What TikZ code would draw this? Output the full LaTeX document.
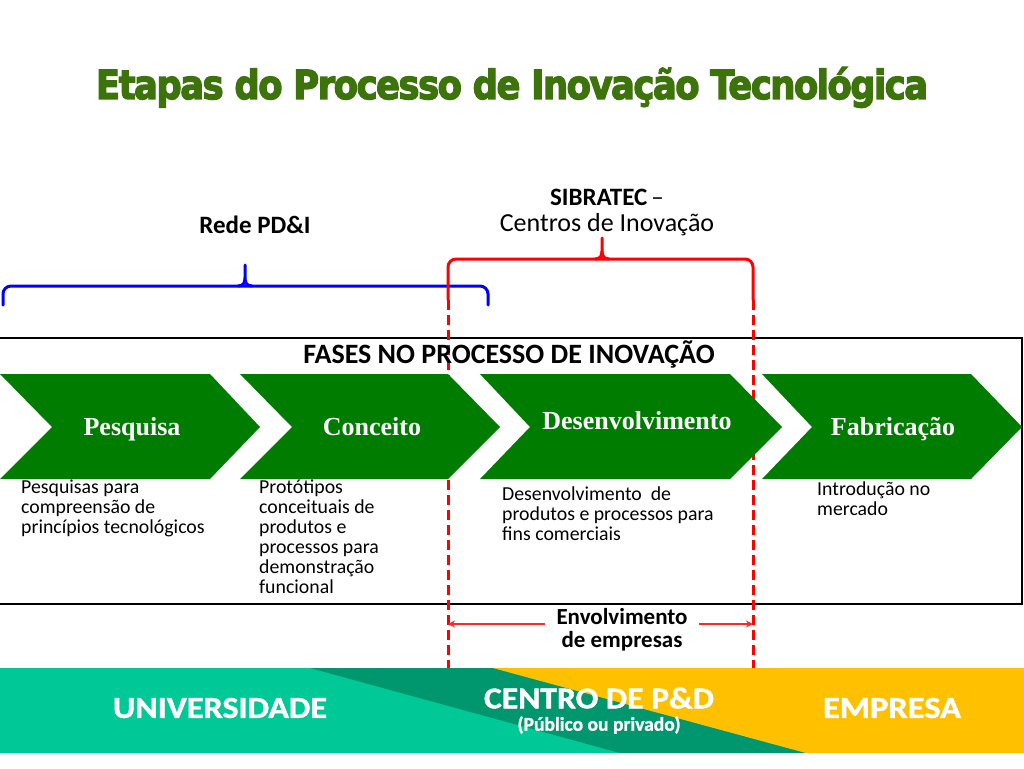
\documentclass[tikz,border=0pt]{standalone}
\usepackage{fontspec}
\setmainfont{Carlito}
\newfontfamily\serifbf{Liberation Serif}
\newfontfamily\titlef[BoldFeatures={FakeBold=3.5}, LetterSpace=-4]{DejaVu Sans}
\newfontfamily\bandf[BoldFeatures={FakeBold=1.2}]{Carlito}
\usetikzlibrary{arrows.meta,calc}
\definecolor{titlegreen}{RGB}{60,115,10}
\definecolor{chev}{RGB}{0,125,0}
\definecolor{bandlight}{RGB}{0,200,150}
\definecolor{banddark}{RGB}{0,150,110}
\definecolor{bandyellow}{RGB}{255,192,0}
\definecolor{bracered}{RGB}{255,0,0}
\definecolor{braceblue}{RGB}{0,0,255}
\definecolor{arrred}{RGB}{255,40,40}
\tikzset{
  bracestyle/.style={line width=3pt, line cap=round, line join=round},
  reddash/.style={bracered, line width=3pt, dash pattern=on 10pt off 5pt},
  chevron/.style={fill=chev},
  chevlabel/.style={text=white, font=\serifbf\bfseries\fontsize{26}{30}\selectfont, inner sep=0pt, anchor=base},
  desc/.style={align=left, anchor=north west, inner sep=0pt, font=\fontsize{19.8}{20}\selectfont},
  headlbl/.style={font=\bfseries\fontsize{25}{30}\selectfont, anchor=base, inner sep=0pt},
  bandlbl/.style={text=white, inner sep=0pt, anchor=center},
  arr/.style={arrred, line width=1.5pt, -{Stealth[length=7pt,width=7pt]}}
}
\begin{document}
\begin{tikzpicture}[x=1pt,y=-1pt]
\useasboundingbox (0,0) rectangle (1024,768);
\fill[white] (0,0) rectangle (1024,768);

% title
\node[inner sep=0pt, anchor=base, text=titlegreen] (title) at (512,99)
  {\resizebox{832pt}{32pt}{\titlef\bfseries Etapas do Processo de Inovação Tecnológica}};

% labels above braces
\node[headlbl] (rede) at (255,233) {Rede PD\&I};
\node[headlbl] (sib) at (607,205) {SIBRATEC\,{\mdseries –}};
\node[headlbl, font=\fontsize{26}{30}\selectfont] (cent) at (607,231) {Centros de Inovação};

% blue brace
\draw[braceblue, bracestyle, rounded corners=8pt] (3,305) -- (3,286) -- (488,286) -- (488,305);
\draw[braceblue, bracestyle] (238,286) .. controls (243,286) and (245,283) .. (245,278) -- (245,265);
\draw[braceblue, bracestyle] (252,286) .. controls (247,286) and (245,283) .. (245,278);

% black box
\draw[black, line width=2pt] (-5,338) -- (1022,338) -- (1022,604) -- (-5,604);

% red brace
\draw[bracered, bracestyle, rounded corners=8pt] (448,300) -- (448,259) -- (753,259) -- (753,300);
\draw[bracered, bracestyle] (595,259) .. controls (600,259) and (602,256) .. (602,251) -- (602,238);
\draw[bracered, bracestyle] (609,259) .. controls (604,259) and (602,256) .. (602,251);
\coordinate (rl) at (448,624);
\coordinate (rr) at (753,624);
\draw[reddash] (448,300) -- (448,668);
\draw[reddash] (753,300) -- (753,668);

% FASES
\node[font=\bfseries\fontsize{28}{32}\selectfont, anchor=base, inner sep=0pt] (fases) at (509,363)
  {FASES NO PROCESSO DE INOVAÇÃO};

% chevrons
\fill[chevron] (0,374) -- (210,374) -- (260,427) -- (210,479) -- (0,479) -- (52,427) -- cycle;
\fill[chevron] (240,374) -- (448,374) -- (500,427) -- (448,479) -- (240,479) -- (292,427) -- cycle;
\fill[chevron] (480,374) -- (730,374) -- (782,427) -- (730,479) -- (480,479) -- (530,427) -- cycle;
\fill[chevron] (762,374) -- (971,374) -- (1022,427) -- (971,479) -- (762,479) -- (812,427) -- cycle;

\node[chevlabel] (pesq) at (132,435) {Pesquisa};
\node[chevlabel] (conc) at (372,435) {Conceito};
\node[chevlabel] (desen) at (637,429) {Desenvolvimento};
\node[chevlabel] (fabr) at (893,435) {Fabricação};

% descriptions
\node[desc] (d1) at (21,479) {\rule{0pt}{14pt}Pesquisas para\\compreensão de\\princípios tecnológicos};
\node[desc] (d2) at (259,479) {\rule{0pt}{14pt}Protótipos\\conceituais de\\produtos e\\processos para\\demonstração\\funcional};
\node[desc] (d3) at (502,486) {\rule{0pt}{14pt}Desenvolvimento \ de\\produtos e processos para\\fins comerciais};
\node[desc] (d4) at (817,481) {\rule{0pt}{14pt}Introdução no\\mercado};

% envolvimento
\node[align=center, font=\bfseries\fontsize{23}{23}\selectfont, inner xsep=11pt, inner ysep=0pt] (env) at (622,630)
  {Envolvimento\\de empresas};
\draw[arr] (env.west |- rl) -- (rl);
\draw[arr] (env.east |- rr) -- (rr);

% bottom band
\fill[bandlight] (0,668) rectangle (1024,753);
\fill[banddark] (310,668) -- (493,668) -- (806,753) -- (620,753) -- cycle;
\fill[bandyellow] (493,668) -- (1024,668) -- (1024,753) -- (806,753) -- cycle;

\node[bandlbl] (univ) at (220,708) {\resizebox{214pt}{20pt}{\bandf\bfseries UNIVERSIDADE}};
\node[bandlbl] (centro) at (599,698) {\resizebox{230pt}{21pt}{\bandf\bfseries CENTRO DE P\&D}};
\node[bandlbl] (pub) at (599,725) {\resizebox{163pt}{!}{\bandf\bfseries\fontsize{20}{24}\selectfont (Público ou privado)}};
\node[bandlbl] (emp) at (892,708) {\resizebox{138pt}{20pt}{\bandf\bfseries EMPRESA}};
\end{tikzpicture}
\end{document}
